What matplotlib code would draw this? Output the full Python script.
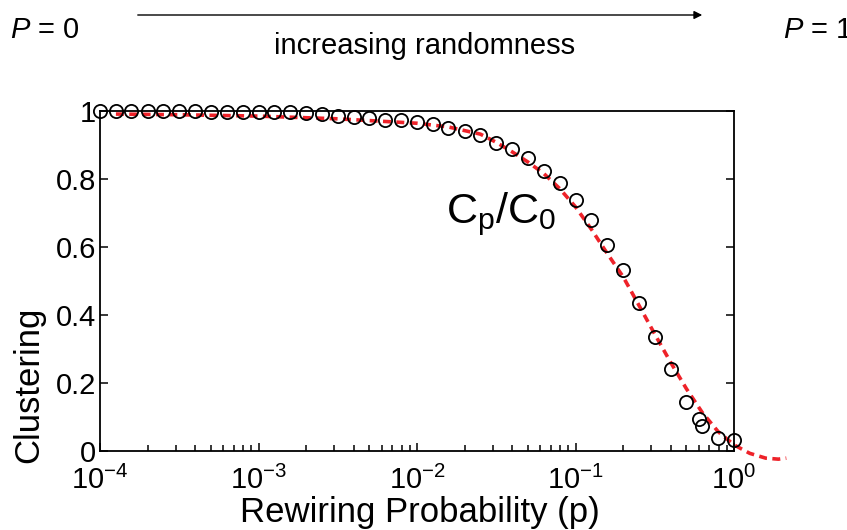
import matplotlib
matplotlib.use("Agg")
import matplotlib.pyplot as plt
from matplotlib.ticker import FixedLocator, LogLocator, NullFormatter

plt.rcParams['font.family'] = ['Liberation Sans', 'DejaVu Sans']
plt.rcParams['mathtext.fontset'] = 'custom'
plt.rcParams['mathtext.rm'] = 'Liberation Sans'
plt.rcParams['mathtext.it'] = 'Liberation Sans:italic'
plt.rcParams['mathtext.bf'] = 'Liberation Sans:bold'

# ---- data ----
p_points = [1.0e-4, 1.26e-4, 1.58e-4, 2.0e-4, 2.51e-4, 3.16e-4, 3.98e-4, 5.01e-4, 6.31e-4, 7.94e-4,
            1.0e-3, 1.26e-3, 1.58e-3, 2.0e-3, 2.51e-3, 3.16e-3, 3.98e-3, 5.01e-3, 6.31e-3, 7.94e-3,
            1.0e-2, 1.26e-2, 1.58e-2, 2.0e-2, 2.51e-2, 3.16e-2, 3.98e-2, 5.01e-2, 6.31e-2, 7.94e-2,
            0.100, 0.126, 0.158, 0.200, 0.251, 0.316, 0.398, 0.501, 0.600, 0.631, 0.794, 1.0]
clustering = [1.000, 1.000, 1.000, 0.999, 0.999, 0.999, 0.999, 0.998, 0.998, 0.997,
              0.997, 0.996, 0.996, 0.995, 0.990, 0.985, 0.983, 0.980, 0.975, 0.973,
              0.968, 0.961, 0.951, 0.941, 0.928, 0.906, 0.888, 0.863, 0.824, 0.787,
              0.738, 0.678, 0.606, 0.533, 0.434, 0.336, 0.240, 0.145, 0.094, 0.074, 0.037, 0.032]

p_fit = [1.26e-4, 3.16e-4, 1.0e-3, 3.16e-3, 1.0e-2, 1.58e-2, 2.51e-2, 3.16e-2, 3.98e-2, 5.01e-2,
         6.31e-2, 7.94e-2, 0.100, 0.126, 0.158, 0.200, 0.251, 0.316, 0.398, 0.501,
         0.631, 0.794, 1.0, 1.259, 1.585, 1.905, 2.138]
c_fit = [0.991, 0.989, 0.985, 0.977, 0.964, 0.953, 0.932, 0.908, 0.880, 0.850,
         0.816, 0.772, 0.718, 0.652, 0.582, 0.512, 0.429, 0.344, 0.261, 0.183,
         0.113, 0.057, 0.018, -0.007, -0.021, -0.024, -0.021]

y_ticks = [0, 0.2, 0.4, 0.6, 0.8, 1.0]
y_ticklabels = ['0', '0.2', '0.4', '0.6', '0.8', '1']
x_ticks = [1e-4, 1e-3, 1e-2, 1e-1, 1e0]
x_ticklabels = [r'$10^{-4}$', r'$10^{-3}$', r'$10^{-2}$', r'$10^{-1}$', r'$10^{0}$']

W, H = 847, 530
fig = plt.figure(figsize=(W / 100, H / 100), dpi=100)
ax = fig.add_axes([100 / W, 1 - 451 / H, (734 - 100) / W, (451 - 111) / H])

ax.plot(p_fit, c_fit, color='#ee2229', lw=2.6, ls=(0, (2.2, 1.5)), clip_on=False, zorder=2)
ax.plot(p_points, clustering, ls='none', marker='o', ms=9.5, mfc='none', mec='black',
        mew=1.3, clip_on=False, zorder=3)

ax.set_xscale('log')
ax.set_xlim(1e-4, 1.0)
ax.set_ylim(0, 1.0)

ax.xaxis.set_major_locator(FixedLocator(x_ticks))
ax.set_xticklabels(x_ticklabels)
ax.xaxis.set_minor_locator(LogLocator(base=10, subs=range(2, 10), numticks=20))
ax.xaxis.set_minor_formatter(NullFormatter())
ax.set_yticks(y_ticks)
ax.set_yticklabels(y_ticklabels)

ax.tick_params(axis='both', which='both', direction='in', top=False, right=True,
               labelsize=21, width=1.1, colors='black')
ax.tick_params(axis='x', which='major', length=6, pad=11)
ax.tick_params(axis='x', which='minor', length=4)
ax.tick_params(axis='y', which='major', length=6, pad=3)
for s in ax.spines.values():
    s.set_linewidth(1.3)

ax.set_xlabel('Rewiring Probability (p)', fontsize=25)
ax.xaxis.set_label_coords(0.505, -0.132)
ax.set_ylabel('Clustering', fontsize=25)
ax.yaxis.set_label_coords(-0.087, 0.194)

ax.text(0.545, 0.67, r'C$_\mathrm{p}$/C$_0$', transform=ax.transAxes, fontsize=31,
        ha='left', va='baseline')

fig.text(10 / W, 1 - 30 / H, r'$P$ = 0', fontsize=21, ha='left', va='center')
fig.text(783 / W, 1 - 30 / H, r'$P$ = 1', fontsize=21, ha='left', va='center')
fig.text(425 / W, 1 - 46 / H, 'increasing randomness', fontsize=21, ha='center', va='center')
fig.add_artist(matplotlib.patches.FancyArrowPatch(
    (135 / W, 1 - 15 / H), (705 / W, 1 - 15 / H), transform=fig.transFigure,
    arrowstyle='-|>', mutation_scale=12, lw=1.0, color='black'))

fig.savefig('out.png', dpi=100)
